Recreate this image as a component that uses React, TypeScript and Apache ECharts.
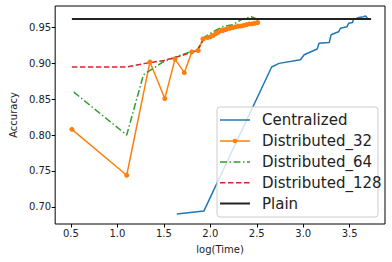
import React, { useEffect, useRef } from "react";
import * as echarts from "echarts";

const xTicks = [0.5, 1.0, 1.5, 2.0, 2.5, 3.0, 3.5];
const yTicks = [0.70, 0.75, 0.80, 0.85, 0.90, 0.95];

const centralized: [number, number][] = [
  [1.64, 0.690], [1.93, 0.694], [2.66, 0.895], [2.74, 0.900], [2.97, 0.905], [3.01, 0.912],
  [3.15, 0.920], [3.17, 0.928], [3.28, 0.929], [3.30, 0.940], [3.38, 0.944], [3.40, 0.949],
  [3.47, 0.951], [3.49, 0.956], [3.53, 0.957], [3.54, 0.961], [3.60, 0.964], [3.65, 0.965],
  [3.67, 0.966], [3.69, 0.963],
];

const distributed32: [number, number][] = [
  [0.51, 0.808], [1.10, 0.744], [1.35, 0.902], [1.51, 0.851], [1.62, 0.906], [1.72, 0.887],
  [1.80, 0.916], [1.87, 0.918], [1.92, 0.934], [1.97, 0.936], [2.00, 0.937], [2.03, 0.939],
  [2.06, 0.942], [2.09, 0.944], [2.12, 0.946], [2.15, 0.947], [2.18, 0.948], [2.21, 0.949],
  [2.24, 0.950], [2.27, 0.951], [2.30, 0.952], [2.33, 0.952], [2.36, 0.953], [2.39, 0.954],
  [2.42, 0.955], [2.45, 0.955], [2.48, 0.956], [2.51, 0.957],
];

const distributed64: [number, number][] = [
  [0.53, 0.860], [1.10, 0.800], [1.28, 0.884], [1.49, 0.902], [1.63, 0.909], [1.76, 0.915],
  [1.86, 0.919], [1.94, 0.937], [2.03, 0.944], [2.13, 0.951], [2.24, 0.954], [2.35, 0.962],
  [2.44, 0.965], [2.50, 0.962],
];

const distributed128: [number, number][] = [
  [0.51, 0.895], [0.80, 0.895], [1.10, 0.895], [1.30, 0.900], [1.50, 0.904], [1.70, 0.911],
  [1.86, 0.918], [1.92, 0.932], [2.00, 0.936], [2.10, 0.942], [2.20, 0.947], [2.30, 0.950],
  [2.40, 0.953], [2.52, 0.956],
];

const plain: [number, number][] = [[0.51, 0.962], [3.73, 0.962]];

const legendNames = ["Centralized", "Distributed_32", "Distributed_64", "Distributed_128", "Plain"];
const legendColors = ["#1f77b4", "#ff7f0e", "#2ca02c", "#d62728", "#222"];
const legendDashes: (number[] | null)[] = [null, null, [7, 2.5, 1.5, 2.5], [5.5, 2.5], null];

const FONT = "DejaVu Sans";

export default function App() {
  const ref = useRef<HTMLDivElement>(null);
  useEffect(() => {
    if (!ref.current) return;
    const chart = echarts.init(ref.current, null, { renderer: "svg" });
    const lineSeries = (name: string, data: [number, number][], color: string, type: any, extra: any = {}) => ({
      name,
      type: "line",
      data,
      symbol: "none",
      showSymbol: false,
      lineStyle: { color, width: 1.5, type },
      itemStyle: { color },
      z: 2,
      ...extra,
    });

    const lx = 217, ly = 107, lw = 161, lh = 110;
    const rowY = [120, 141, 162, 182.7, 203.5];
    const legendEls: any[] = [
      {
        type: "rect",
        shape: { x: lx, y: ly, width: lw, height: lh, r: 3 },
        style: { fill: "rgba(255,255,255,0.8)", stroke: "#ccc", lineWidth: 1 },
        z: 10,
      },
    ];
    legendNames.forEach((n, i) => {
      const y = rowY[i];
      legendEls.push({
        type: "line",
        shape: { x1: 220, y1: y, x2: 250, y2: y },
        style: {
          stroke: legendColors[i],
          lineWidth: i === 4 ? 2 : 1.5,
          lineDash: legendDashes[i] || undefined,
        },
        z: 11,
      });
      if (i === 1) {
        legendEls.push({
          type: "circle",
          shape: { cx: 235, cy: y, r: 2.3 },
          style: { fill: legendColors[i] },
          z: 12,
        });
      }
      legendEls.push({
        type: "text",
        x: 262,
        y,
        style: { text: n, fontSize: 15, fontFamily: FONT, fill: "#222", verticalAlign: "middle", align: "left" },
        z: 11,
      });
    });

    chart.setOption({
      animation: false,
      backgroundColor: "#fff",
      textStyle: { fontFamily: FONT },
      grid: { left: 50, right: 7, top: 6, bottom: 38, show: true, borderColor: "#000", borderWidth: 1, backgroundColor: "transparent" },
      xAxis: {
        type: "value",
        min: 0.33,
        max: 3.88,
        name: "log(Time)",
        nameLocation: "middle",
        nameGap: 20,
        nameTextStyle: { fontSize: 10, color: "#222", fontFamily: FONT },
        axisLine: { show: false },
        splitLine: { show: false },
        axisTick: { show: true, length: 3.5, lineStyle: { color: "#000" }, customValues: xTicks },
        axisLabel: { fontSize: 10, color: "#222", margin: 4, fontFamily: FONT, customValues: xTicks, formatter: (v: number) => v.toFixed(1) },
      },
      yAxis: {
        type: "value",
        min: 0.676,
        max: 0.98,
        name: "Accuracy",
        nameLocation: "middle",
        nameGap: 36,
        nameTextStyle: { fontSize: 10, color: "#222", fontFamily: FONT },
        axisLine: { show: false },
        splitLine: { show: false },
        axisTick: { show: true, length: 3.5, lineStyle: { color: "#000" }, customValues: yTicks },
        axisLabel: { fontSize: 10, color: "#222", margin: 4, fontFamily: FONT, customValues: yTicks, formatter: (v: number) => v.toFixed(2) },
      },
      graphic: legendEls,
      series: [
        lineSeries("Centralized", centralized, "#1f77b4", "solid"),
        lineSeries("Distributed_32", distributed32, "#ff7f0e", "solid", {
          symbol: "circle",
          showSymbol: true,
          symbolSize: 5,
        }),
        lineSeries("Distributed_64", distributed64, "#2ca02c", [7, 2.5, 1.5, 2.5]),
        lineSeries("Distributed_128", distributed128, "#d62728", [5.5, 2.5]),
        lineSeries("Plain", plain, "#222", "solid", { lineStyle: { color: "#222", width: 2, type: "solid" }, z: 3 }),
      ],
    });
    return () => chart.dispose();
  }, []);
  return <div ref={ref} style={{ position: "fixed", left: 0, top: 0, width: 392, height: 262 }} />;
}
